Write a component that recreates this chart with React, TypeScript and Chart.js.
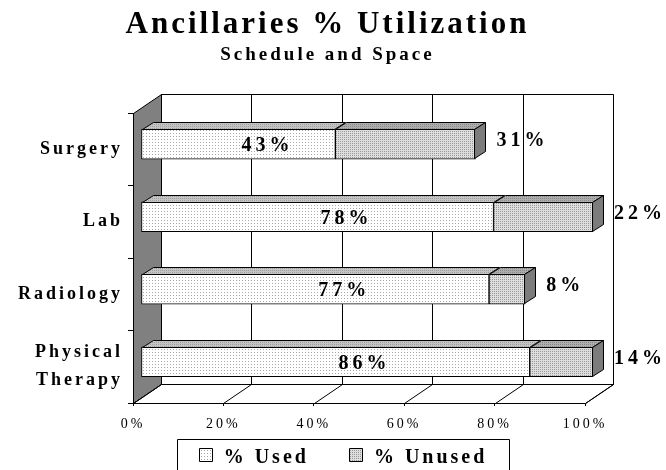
import { useEffect, useRef } from 'react';
import { Chart, registerables } from 'chart.js';

Chart.register(...registerables);

const categories: (string | string[])[] = ['Surgery', 'Lab', 'Radiology', ['Physical', 'Therapy']];
const usedValues = [43, 78, 77, 86];
const unusedValues = [31, 22, 8, 14];
const seriesNames = ['% Used', '% Unused'];
const xTicks = [0, 20, 40, 60, 80, 100];
const titleText = 'Ancillaries % Utilization';
const subtitleText = 'Schedule and Space';

const FONT = '"Liberation Serif", "Times New Roman", Times, serif';
const DX = 28;
const DY = -19;
const BAR_OX = 8;
const BAR_OY = -5;
const BDX = 11;
const BDY = -7;

function makePattern(ctx: CanvasRenderingContext2D, bg: string, dot: string, size: number) {
  const c = document.createElement('canvas');
  c.width = size;
  c.height = size;
  const g = c.getContext('2d')!;
  g.fillStyle = bg;
  g.fillRect(0, 0, size, size);
  g.fillStyle = dot;
  g.fillRect(0, 0, 1, 1);
  return ctx.createPattern(c, 'repeat')!;
}

function poly(c: CanvasRenderingContext2D, pts: number[][], fill: any) {
  c.beginPath();
  pts.forEach((p, i) => (i === 0 ? c.moveTo(p[0], p[1]) : c.lineTo(p[0], p[1])));
  c.closePath();
  if (fill) {
    c.fillStyle = fill;
    c.fill();
  }
  c.stroke();
}

const h = (v: number) => Math.round(v) + 0.5;

export default function App() {
  const ref = useRef<HTMLCanvasElement>(null);

  useEffect(() => {
    const canvas = ref.current!;
    const ctx = canvas.getContext('2d')!;
    const usedFill = makePattern(ctx, '#ffffff', '#a8a8a8', 3);
    const unusedFill = makePattern(ctx, '#dedede', '#999999', 2);
    const usedTop = makePattern(ctx, '#c4c4c4', '#a0a0a0', 2);
    const unusedTop = makePattern(ctx, '#adadad', '#888888', 2);
    const topFills = [usedTop, unusedTop];
    const fronts = [usedFill, unusedFill];
    const sideFill = '#7c7c7c';

    const scene = {
      id: 'scene3d',
      beforeUpdate(chart: any) {
        chart.ctx.letterSpacing = '3px';
      },
      beforeDraw(chart: any) {
        const c: CanvasRenderingContext2D = chart.ctx;
        const { left: L, right: R, top: T, bottom: B } = chart.chartArea;
        const xs = chart.scales.x;
        c.save();
        c.lineWidth = 1;
        c.strokeStyle = '#000';
        // back wall
        c.fillStyle = '#ffffff';
        c.beginPath();
        c.rect(h(L + DX), h(T + DY), Math.round(R - L), Math.round(B - T));
        c.fill();
        c.stroke();
        // side wall
        poly(c, [[h(L), h(T)], [h(L + DX), h(T + DY)], [h(L + DX), h(B + DY)], [h(L), h(B)]], '#808080');
        // floor
        poly(c, [[h(L), h(B)], [h(L + DX), h(B + DY)], [h(R + DX), h(B + DY)], [h(R), h(B)]], '#ffffff');
        // gridlines on back wall and floor
        xTicks.forEach((v) => {
          const x = xs.getPixelForValue(v);
          c.beginPath();
          c.moveTo(h(x + DX), h(T + DY));
          c.lineTo(h(x + DX), h(B + DY));
          c.lineTo(h(x), h(B));
          c.stroke();
        });
        // title and subtitle
        const tcx = 327.5;
        c.fillStyle = '#000';
        c.textAlign = 'center';
        c.textBaseline = 'middle';
        c.letterSpacing = '3px';
        c.font = `bold 31px ${FONT}`;
        c.fillText(titleText, tcx, 24.6);
        c.font = `bold 19px ${FONT}`;
        c.fillText(subtitleText, tcx, 54.6);
        c.restore();
        c.letterSpacing = '3px';
      },
      beforeDatasetsDraw(chart: any) {
        chart.ctx.save();
        chart.ctx.translate(BAR_OX, BAR_OY);
      },
      afterDatasetsDraw(chart: any) {
        const c: CanvasRenderingContext2D = chart.ctx;
        c.restore();
        c.save();
        c.lineWidth = 1;
        c.strokeStyle = '#000';
        const n = chart.data.datasets.length;
        for (let di = 0; di < n; di++) {
          const meta = chart.getDatasetMeta(di);
          meta.data.forEach((el: any) => {
            const { x, y, base, height } = el.getProps(['x', 'y', 'base', 'height'], true);
            const x0 = Math.round(Math.min(x, base) + BAR_OX);
            const x1 = Math.round(Math.max(x, base) + BAR_OX);
            const yt = Math.round(y - height / 2 + BAR_OY);
            const yb = Math.round(y + height / 2 + BAR_OY) - 1;
            poly(c, [[x0 + 0.5, yt + 0.5], [x0 + BDX + 0.5, yt + BDY + 0.5], [x1 + BDX - 0.5, yt + BDY + 0.5], [x1 - 0.5, yt + 0.5]], topFills[di]);
            if (di === n - 1) {
              poly(c, [[x1 - 0.5, yt + 0.5], [x1 + BDX - 0.5, yt + BDY + 0.5], [x1 + BDX - 0.5, yb + BDY + 0.5], [x1 - 0.5, yb + 0.5]], sideFill);
            }
          });
        }
        // data labels
        c.font = `bold 20px ${FONT}`;
        c.letterSpacing = '4px';
        c.fillStyle = '#000';
        c.textBaseline = 'middle';
        const m0 = chart.getDatasetMeta(0);
        const m1 = chart.getDatasetMeta(1);
        m0.data.forEach((el: any, i: number) => {
          const { x, y, base } = el.getProps(['x', 'y', 'base'], true);
          c.textAlign = 'center';
          c.fillText(`${chart.data.datasets[0].data[i]}%`, (x + base) / 2 + BAR_OX + 29, y + BAR_OY + 2);
        });
        m1.data.forEach((el: any, i: number) => {
          const { x, y } = el.getProps(['x', 'y'], true);
          c.textAlign = 'left';
          c.fillText(`${chart.data.datasets[1].data[i]}%`, x + BAR_OX + 21, y + BAR_OY - 3);
        });
        c.restore();
        c.letterSpacing = '3px';
      },
      afterDraw(chart: any) {
        const c: CanvasRenderingContext2D = chart.ctx;
        c.save();
        c.font = `bold 20px ${FONT}`;
        c.letterSpacing = '3px';
        c.textBaseline = 'alphabetic';
        c.textAlign = 'left';
        const box = 13;
        const gapText = 12;
        const gapItem = 40;
        const items = chart.data.datasets.map((d: any, i: number) => ({
          text: d.label,
          fill: fronts[i],
          w: box + gapText + c.measureText(d.label).width,
        }));
        const total = items.reduce((s: number, it: any) => s + it.w, 0) + gapItem * (items.length - 1);
        const cx = (chart.width + 20) / 2;
        let x = cx - total / 2;
        const top = 439;
        c.lineWidth = 1;
        c.strokeStyle = '#000';
        c.fillStyle = '#fff';
        c.beginPath();
        c.rect(h(x - 22), h(top), Math.round(total + 43), 60);
        c.fill();
        c.stroke();
        items.forEach((it: any) => {
          c.fillStyle = it.fill;
          c.beginPath();
          c.rect(h(x), h(448), box, box);
          c.fill();
          c.strokeStyle = '#000';
          c.stroke();
          c.fillStyle = '#000';
          c.fillText(it.text, x + box + gapText, 463);
          x += it.w + gapItem;
        });
        c.restore();
      },
    };

    const chart = new Chart(canvas, {
      type: 'bar',
      data: {
        labels: categories as any,
        datasets: [
          {
            label: seriesNames[0],
            data: usedValues,
            backgroundColor: usedFill as any,
            borderColor: '#000',
            borderWidth: 1,
            borderSkipped: false,
            barThickness: 30,
            clip: false as any,
          },
          {
            label: seriesNames[1],
            data: unusedValues,
            backgroundColor: unusedFill as any,
            borderColor: '#000',
            borderWidth: 1,
            borderSkipped: false,
            barThickness: 30,
            clip: false as any,
          },
        ],
      },
      options: {
        indexAxis: 'y',
        responsive: false,
        animation: false,
        devicePixelRatio: 1,
        layout: { padding: { left: 0, right: 81, top: 113, bottom: 37 } },
        plugins: {
          legend: { display: false },
          tooltip: { enabled: false },
          title: { display: false },
        },
        scales: {
          x: {
            stacked: true,
            min: 0,
            max: 100,
            afterBuildTicks: (s: any) => {
              s.ticks = xTicks.map((v) => ({ value: v }));
            },
            ticks: {
              callback: (v: any) => `${v}%`,
              color: '#000',
              font: { family: FONT, size: 14 },
              padding: 10,
              autoSkip: false,
              maxRotation: 0,
            },
            grid: { drawOnChartArea: false, tickLength: 3, color: '#000' },
            border: { color: '#000' },
            afterFit: (s: any) => {
              s.height = 30;
            },
          },
          y: {
            stacked: true,
            ticks: {
              color: '#000',
              font: { family: FONT, size: 18, weight: 'bold', lineHeight: 1.55 },
              padding: 5,
            },
            grid: { drawOnChartArea: false, tickLength: 5, color: '#000', offset: true },
            border: { color: '#000' },
            afterFit: (s: any) => {
              s.width = 133;
            },
          },
        },
      } as any,
      plugins: [scene as any],
    });

    return () => chart.destroy();
  }, []);

  return (
    <canvas
      ref={ref}
      width={666}
      height={470}
      style={{ position: 'absolute', left: 0, top: 0, display: 'block' }}
    />
  );
}
